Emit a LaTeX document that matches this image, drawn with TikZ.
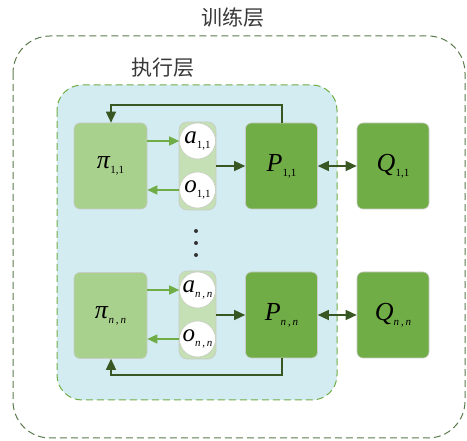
\documentclass[tikz,border=0pt]{standalone}
\usepackage{fontspec}
\setmainfont{Liberation Serif}
\newfontfamily\cjk{Noto Sans CJK SC}
\usetikzlibrary{arrows.meta}

\definecolor{outerdash}{HTML}{5A7A4C}
\definecolor{innerdash}{HTML}{70AD47}
\definecolor{layerfill}{HTML}{D2ECF2}
\definecolor{polfill}{HTML}{A9D18E}
\definecolor{pillfill}{HTML}{C5E0B4}
\definecolor{envfill}{HTML}{70AD47}
\definecolor{boxedge}{HTML}{C8CCC4}
\definecolor{lightarrow}{HTML}{70AD47}
\definecolor{darkarrow}{HTML}{385723}

% symbol with a small lowered subscript
\newcommand\symsub[2]{\textit{#1}\raisebox{-5pt}{\fontsize{11}{11}\selectfont #2}}
\newcommand\nn{\textit{n}\,,\,\textit{n}}

\tikzset{
  x=1pt, y=-1pt,
  title/.style={font=\cjk\fontsize{21}{21}\selectfont, text=black!78},
  policy/.style={draw=boxedge, fill=polfill, rounded corners=6pt, line width=0.6pt,
    minimum width=73pt, minimum height=86pt, inner sep=0pt,
    font=\fontsize{26}{26}\selectfont},
  env/.style={draw=boxedge, fill=envfill, rounded corners=6pt, line width=0.6pt,
    minimum width=72pt, minimum height=86pt, inner sep=0pt,
    font=\fontsize{26}{26}\selectfont},
  pill/.style={draw=boxedge, fill=pillfill, rounded corners=8pt, line width=0.6pt,
    minimum width=37pt, minimum height=88pt, inner sep=0pt},
  bubble/.style={circle, draw=boxedge, fill=white, line width=0.6pt,
    minimum size=36pt, inner sep=0pt, font=\fontsize{25}{25}\selectfont},
  lightarr/.style={draw=lightarrow, line width=1.4pt,
    -{Triangle[length=10pt,width=9pt]}},
  darkarr/.style={draw=darkarrow, line width=1.4pt,
    -{Triangle[length=11pt,width=10pt]}},
  duoarr/.style={draw=darkarrow, line width=1.4pt,
    {Triangle[length=11pt,width=10pt]}-{Triangle[length=11pt,width=10pt]}},
  dot/.style={circle, fill=black!80, inner sep=0pt, minimum size=4pt},
}

\begin{document}
\begin{tikzpicture}
\useasboundingbox (0,0) rectangle (467,441);

% training layer frame
\draw[outerdash, line width=1pt, dash pattern=on 7pt off 4pt, rounded corners=37pt]
  (13,36) rectangle (465,438);
\node[title] (train) at (233,18) {训练层};

% execution layer frame
\draw[innerdash, fill=layerfill, line width=1pt, dash pattern=on 7pt off 4pt, rounded corners=25pt]
  (57,85) rectangle (337,400);
\node[title] (exec) at (163,68) {执行层};

% first agent row
\node[policy] (pi1) at (110.5,166) {\symsub{π}{1,1}};
\node[pill]   (pl1) at (197.5,166) {};
\node[bubble] (a1)  at (197.5,141) {\symsub{a}{1,1}};
\node[bubble] (o1)  at (197.5,190) {\symsub{o}{1,1}};
\node[env]    (P1)  at (281.5,166) {\symsub{P}{1,1}};
\node[env]    (Q1)  at (393,166) {\symsub{Q}{1,1}};

% last agent row
\node[policy] (pin) at (110.5,315.5) {\symsub{π}{\nn}};
\node[pill]   (pln) at (197.5,315) {};
\node[bubble] (an)  at (197.5,290) {\symsub{a}{\nn}};
\node[bubble] (on)  at (197.5,339) {\symsub{o}{\nn}};
\node[env]    (Pn)  at (281.5,315) {\symsub{P}{\nn}};
\node[env]    (Qn)  at (393,315) {\symsub{Q}{\nn}};

% vertical ellipsis between the rows
\node[dot] (d1) at (196,231) {};
\node[dot] (d2) at (196,243) {};
\node[dot] (d3) at (196,255) {};

% action / observation exchange
\draw[lightarr] (pi1.east |- a1) -- (a1.west);
\draw[lightarr] (o1.west) -- (pi1.east |- o1);
\draw[lightarr] (pin.east |- an) -- (an.west);
\draw[lightarr] (on.west) -- (pin.east |- on);

% actions into the environment
\draw[darkarr] (pl1.east) -- (P1.west);
\draw[darkarr] (pln.east) -- (Pn.west);

% environment to training layer
\draw[duoarr] (P1.east) -- (Q1.west);
\draw[duoarr] (Pn.east) -- (Qn.west);

% feedback loops back to the policies
\coordinate (t1) at (282,105);
\coordinate (t2) at (111,105);
\draw[darkarr] (P1.north -| t1) -- (t1) -- (t2) -- (pi1.north -| t2);
\coordinate (b1) at (282,375);
\coordinate (b2) at (111,375);
\draw[darkarr] (Pn.south -| b1) -- (b1) -- (b2) -- (pin.south -| b2);
\end{tikzpicture}
\end{document}
